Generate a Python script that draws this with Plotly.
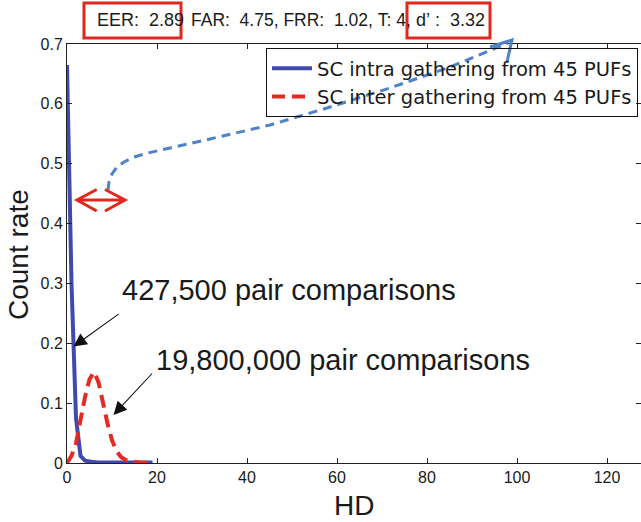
import plotly.graph_objects as go

# ---- data ----
hd_intra = list(range(0, 20))
rate_intra = [0.665, 0.30, 0.075, 0.012, 0.004, 0.002, 0.0015, 0.001, 0.001, 0.001,
              0.001, 0.001, 0.001, 0.001, 0.001, 0.001, 0.001, 0.001, 0.001, 0.001]
hd_inter = list(range(0, 20))
rate_inter = [0.0, 0.012, 0.033, 0.072, 0.110, 0.140, 0.152, 0.135, 0.100, 0.066,
              0.038, 0.020, 0.010, 0.005, 0.003, 0.0015, 0.0008, 0.0004, 0.0002, 0.0001]
series_names = ["SC intra gathering from 45 PUFs", "SC inter gathering from 45 PUFs"]
x_ticks = [0, 20, 40, 60, 80, 100, 120]
y_ticks = [0, 0.1, 0.2, 0.3, 0.4, 0.5, 0.6, 0.7]
title_parts = ["EER:\u00a0\u00a02.89", "FAR:\u00a0\u00a04.75,\u00a0FRR:\u00a0\u00a01.02,\u00a0T:\u00a04,",
               "d\u2019\u00a0:\u00a0\u00a03.32"]
note_intra = "427,500 pair comparisons"
note_inter = "19,800,000 pair comparisons"

FONT = "Liberation Sans, Arial, sans-serif"
LEGEND_FONT = "DejaVu Sans, sans-serif"
BLUE = "#4049b0"
RED = "#e52a22"
ARROW_BLUE = "#4f82c6"
BOX_RED = "#e0281e"
TXT = "#1a1a1a"

# plot-area geometry in pixels
L, T, W, H = 67, 44, 574, 419
FW, FH = 641, 522


def px(x):
    return (x - L) / W


def py(y):
    return (T + H - y) / H


fig = go.Figure()
fig.add_trace(go.Scatter(x=hd_intra, y=rate_intra, mode="lines", name=series_names[0],
                         line=dict(color=BLUE, width=4)))
fig.add_trace(go.Scatter(x=hd_inter, y=rate_inter, mode="lines", name=series_names[1],
                         line=dict(color=RED, width=4, dash="13px,7px")))

axis_common = dict(showline=True, linecolor="#222222", linewidth=1, mirror="allticks",
                   ticks="inside", ticklen=5, tickwidth=1, tickcolor="#222222",
                   showgrid=False, zeroline=False,
                   tickfont=dict(family=FONT, size=16, color=TXT))

fig.update_xaxes(range=[0, W / 4.5], tickvals=x_ticks, ticktext=[str(v) for v in x_ticks],
                 **axis_common)
fig.update_yaxes(range=[0, 0.7], tickvals=y_ticks,
                 ticktext=["0" if v == 0 else f"{v:.1f}" for v in y_ticks], **axis_common)

shapes = []
# red boxes around EER and d'
for x0, x1 in [(84, 181), (407, 490)]:
    shapes.append(dict(type="rect", xref="paper", yref="paper", x0=px(x0), x1=px(x1),
                       y0=py(38), y1=py(3), line=dict(color=BOX_RED, width=3)))


def path(points):
    s = ""
    for i, (x, y) in enumerate(points):
        s += ("M" if i == 0 else "L") + f"{px(x):.5f},{py(y):.5f} "
    return s


# blue dashed connector
conn = [(108, 190), (109, 182), (112, 174), (117, 167), (124, 162), (134, 157), (148, 153),
        (170, 148), (210, 139), (270, 125), (327, 108), (390, 88), (450, 67), (508, 43)]
shapes.append(dict(type="path", xref="paper", yref="paper", path=path(conn),
                   line=dict(color=ARROW_BLUE, width=3, dash="9px,6px")))
shapes.append(dict(type="path", xref="paper", yref="paper",
                   path=path([(490, 47), (512, 40), (507, 62)]),
                   line=dict(color=ARROW_BLUE, width=3)))
# red double arrow
shapes.append(dict(type="path", xref="paper", yref="paper",
                   path=path([(96.7, 189.5), (77, 200), (96.7, 211)]) +
                   path([(77, 200), (125, 200)]) +
                   path([(105, 189.5), (125, 200), (105, 211)]),
                   line=dict(color=BOX_RED, width=3)))

annotations = []
annotations.append(dict(xref="paper", yref="paper", x=px(95), y=py(20), xanchor="left",
                        yanchor="middle", text=title_parts[0], showarrow=False,
                        font=dict(family=FONT, size=18, color=TXT)))
annotations.append(dict(xref="paper", yref="paper", x=px(189), y=py(20), xanchor="left",
                        yanchor="middle", text=title_parts[1], showarrow=False,
                        font=dict(family=FONT, size=17.5, color=TXT)))
annotations.append(dict(xref="paper", yref="paper", x=px(414), y=py(20), xanchor="left",
                        yanchor="middle", text=title_parts[2], showarrow=False,
                        font=dict(family=FONT, size=18, color=TXT)))
# axis titles
annotations.append(dict(xref="paper", yref="paper", x=px(353.5), y=py(505), text="HD",
                        showarrow=False, xanchor="center", yanchor="middle",
                        font=dict(family=FONT, size=28, color=TXT)))
annotations.append(dict(xref="paper", yref="paper", x=px(18), y=py(254), text="Count rate",
                        showarrow=False, textangle=-90, xanchor="center", yanchor="middle",
                        font=dict(family=FONT, size=28, color=TXT)))
# notes
annotations.append(dict(xref="paper", yref="paper", x=px(120), y=py(290), text=note_intra,
                        showarrow=False, xanchor="left", yanchor="middle",
                        font=dict(family=FONT, size=29, color=TXT)))
annotations.append(dict(xref="paper", yref="paper", x=px(154), y=py(360), text=note_inter,
                        showarrow=False, xanchor="left", yanchor="middle",
                        font=dict(family=FONT, size=29, color=TXT)))
# black arrows
for (tx, ty), (sx, sy) in [((73.5, 346.5), (120, 313)), ((113.5, 415), (153.5, 372))]:
    annotations.append(dict(xref="paper", yref="paper", x=px(tx), y=py(ty), text="",
                            showarrow=True, ax=sx - tx, ay=sy - ty, axref="pixel",
                            ayref="pixel", arrowhead=2, arrowsize=2.4, arrowwidth=1.1,
                            arrowcolor="#111111", standoff=0, startstandoff=0))

fig.update_layout(
    width=FW, height=FH,
    margin=dict(l=L, r=FW - L - W, t=T, b=FH - T - H, pad=0),
    paper_bgcolor="white", plot_bgcolor="white",
    showlegend=True,
    legend=dict(x=px(638), y=py(48), xanchor="right", yanchor="top",
                bgcolor="rgba(255,255,255,0)", bordercolor="#111111", borderwidth=1,
                font=dict(family=LEGEND_FONT, size=19.5, color=TXT), itemwidth=40,
                tracegroupgap=0),
    shapes=shapes, annotations=annotations,
)

fig.write_html("out.html")
